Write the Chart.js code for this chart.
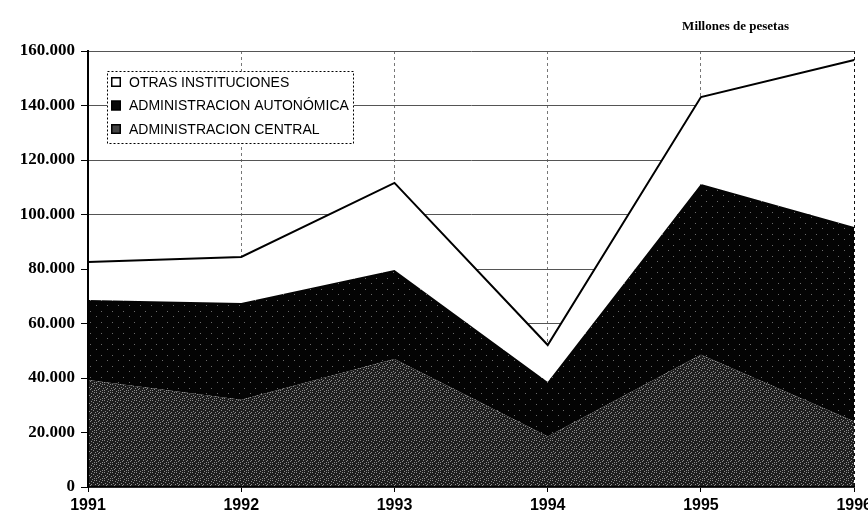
<!DOCTYPE html>
<html><head><meta charset="utf-8">
<script src="https://cdn.jsdelivr.net/npm/chart.js@4"></script>
<style>
html,body{margin:0;padding:0;overflow:hidden;background:#fff;width:868px;height:517px}
#wrap{width:876px;height:517px}
</style>
</head><body><div id="wrap"><canvas id="c" width="876" height="517"></canvas></div>
<script>
const years = ['1991', '1992', '1993', '1994', '1995', '1996'];
const central = [39300, 32000, 47000, 18500, 48500, 24000];
const autonomica = [29300, 35500, 32600, 20000, 62700, 71400];
const otras = [14000, 16900, 32000, 13600, 31900, 61300];
const seriesLabels = ['ADMINISTRACION CENTRAL', 'ADMINISTRACION AUTONÓMICA', 'OTRAS INSTITUCIONES'];
const yMax = 160000;
const yStep = 20000;
const unitTitle = 'Millones de pesetas';

function fmt(n){ return String(n).replace(/\B(?=(\d{3})+(?!\d))/g, '.'); }

function makePattern(base, dot, size, pts){
  const c = document.createElement('canvas'); c.width = size; c.height = size;
  const g = c.getContext('2d');
  g.fillStyle = base; g.fillRect(0,0,size,size);
  g.fillStyle = dot;
  pts.forEach(p => g.fillRect(p[0], p[1], 1, 1));
  return g.createPattern(c, 'repeat');
}
const centralFill = makePattern('#1e1e1e', '#8c8c8c', 8,
  [[0,0],[3,1],[6,0],[1,3],[5,2],[2,5],[7,4],[0,6],[4,7],[6,6],[3,4]]);
const autoFill = makePattern('#040404', '#6a6a6a', 11, [[2,3],[8,8]]);

const legendPlugin = {
  id: 'boxLegend',
  afterDraw(chart){
    const ctx = chart.ctx;
    ctx.save();
    ctx.fillStyle = '#fff';
    ctx.fillRect(107, 71, 247, 72);
    ctx.setLineDash([2,2]); ctx.strokeStyle = '#000'; ctx.lineWidth = 1;
    ctx.strokeRect(107.5, 71.5, 246, 72);
    ctx.setLineDash([]);
    const order = [2,1,0];
    order.forEach((di, i) => {
      const ds = chart.data.datasets[di];
      const y = 82 + i * 23.5;
      ctx.fillStyle = ds.legendColor; ctx.fillRect(111, y-5, 10, 10);
      ctx.strokeStyle = '#000'; ctx.lineWidth = 1.5; ctx.strokeRect(111.75, y-4.25, 8.5, 8.5);
      ctx.fillStyle = '#000'; ctx.font = '14px "Liberation Sans", Arial, sans-serif';
      ctx.textBaseline = 'middle'; ctx.textAlign = 'left';
      ctx.fillText(ds.label, 129, y + 1);
    });
    ctx.font = 'bold 13px "Liberation Serif", "Times New Roman", serif';
    ctx.textAlign = 'right'; ctx.textBaseline = 'middle';
    ctx.fillText(unitTitle, 789, 27);
    ctx.restore();
  }
};

new Chart(document.getElementById('c'), {
  type: 'line',
  data: {
    labels: years,
    datasets: [
      { label: seriesLabels[0], data: central, fill: 'origin', backgroundColor: centralFill,
        borderWidth: 0, pointRadius: 0, legendColor: '#444' },
      { label: seriesLabels[1], data: autonomica, fill: '-1', backgroundColor: autoFill,
        borderWidth: 0, pointRadius: 0, legendColor: '#080808' },
      { label: seriesLabels[2], data: otras, fill: '-1', backgroundColor: '#ffffff',
        borderColor: '#000', borderWidth: 2, pointRadius: 0, legendColor: '#fff' }
    ]
  },
  options: {
    responsive: false,
    animation: false,
    layout: { padding: { top: 51, right: 20, left: 0, bottom: 0 } },
    elements: { line: { tension: 0 } },
    plugins: { legend: { display: false }, tooltip: { enabled: false }, title: { display: false } },
    scales: {
      x: {
        offset: false,
        grid: { color: (c) => c.index === 5 ? '#111' : '#777', lineWidth: 1, tickColor: '#000', tickLength: 5 },
        border: { display: true, color: '#000', width: 1.5, z: 1, dash: [3, 3] },
        ticks: { color: '#000', padding: 4, maxRotation: 0, autoSkip: false,
          font: { family: '"Liberation Sans", Arial, sans-serif', weight: 'bold', size: 16 } },
        afterFit(s){ s.height = 30; }
      },
      y: {
        stacked: true, min: 0, max: yMax,
        grid: { color: '#555', lineWidth: 1, tickColor: '#000', tickLength: 7 },
        border: { display: true, color: '#000', width: 2, z: 1 },
        ticks: { stepSize: yStep, color: '#000', padding: 6, callback: (v) => fmt(v),
          font: { family: '"Liberation Serif", "Times New Roman", serif', weight: 'bold', size: 17 } },
        afterFit(s){ s.width = 88; }
      }
    }
  },
  plugins: [legendPlugin]
});
</script>
</body></html>
